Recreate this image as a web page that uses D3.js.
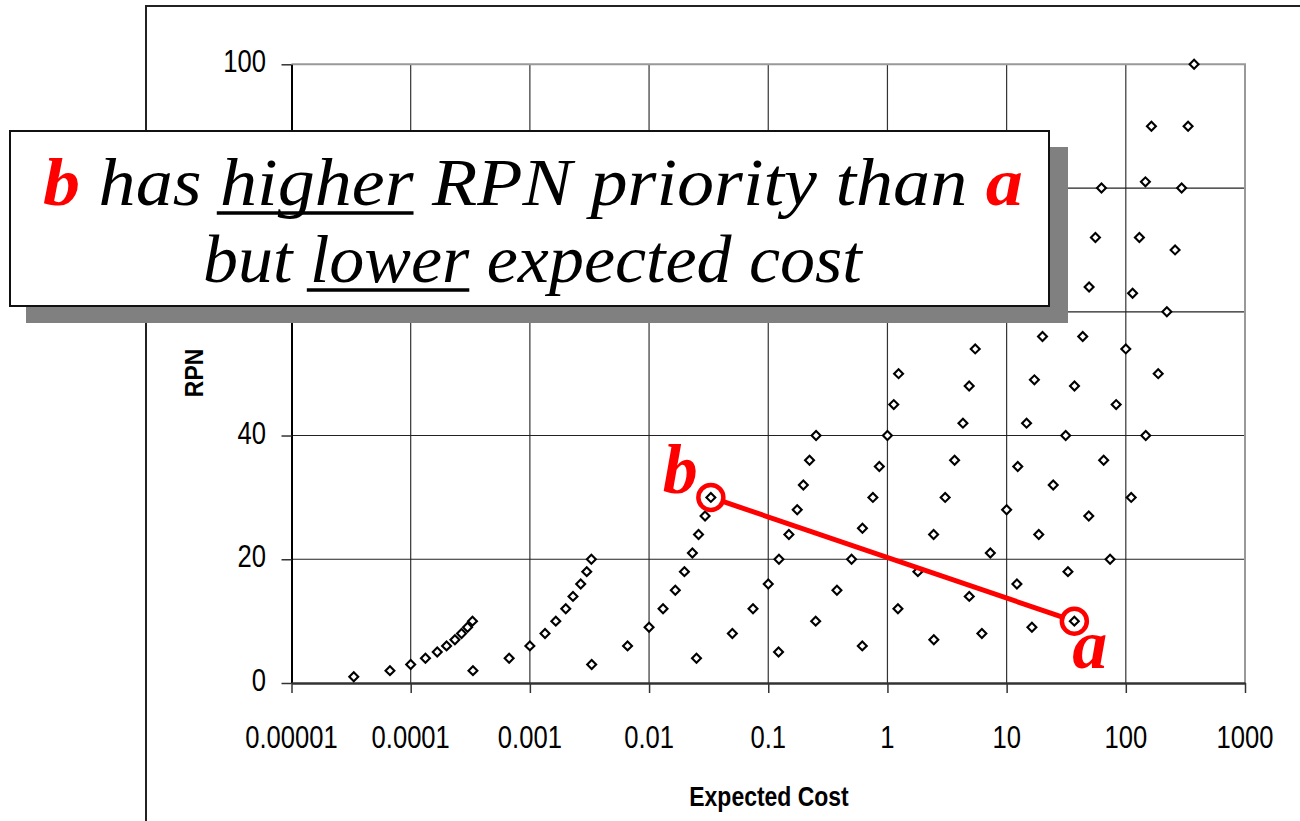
<!DOCTYPE html>
<html>
<head>
<meta charset="utf-8">
<script src="https://cdn.jsdelivr.net/npm/d3@7"></script>
<style>
  body { margin: 0; background: #fff; }
  svg { display: block; }
</style>
</head>
<body>
<script>
// Axis ticks
const xTicks = [1e-5, 1e-4, 1e-3, 1e-2, 1e-1, 1, 10, 100, 1000];
const xTickLabels = ["0.00001", "0.0001", "0.001", "0.01", "0.1", "1", "10", "100", "1000"];
const yTicks = [0, 20, 40, 60, 80, 100];
// 60 and 80 sit behind the callout box in the original
const yTickLabels = ["0", "20", "40", "", "", "100"];

// Point families (RPN vs expected cost)
const rpn1 = [1, 2, 3, 4, 5, 6, 7, 8, 9, 10];
const cost1 = [3.33e-5, 6.7e-5, 1.0e-4, 1.33e-4, 1.67e-4, 2.0e-4, 2.35e-4, 2.67e-4, 3.0e-4, 3.3e-4];
const rpn2 = [2, 4, 6, 8, 10, 12, 14, 16, 18, 20];
const cost2 = [3.33e-4, 6.7e-4, 1.0e-3, 1.34e-3, 1.65e-3, 2.0e-3, 2.3e-3, 2.67e-3, 3.0e-3, 3.28e-3];
const rpn3 = [3, 6, 9, 12, 15, 18, 21, 24, 27, 30];
const cost3 = [3.3e-3, 6.6e-3, 0.01, 0.0131, 0.0166, 0.0198, 0.0231, 0.026, 0.0295, 0.033];
const rpn4 = [4, 8, 12, 16, 20, 24, 28, 32, 36, 40];
const cost4 = [0.025, 0.05, 0.0745, 0.1, 0.123, 0.149, 0.175, 0.197, 0.222, 0.252];
const rpn5 = [5, 10, 15, 20, 25, 30, 35, 40, 45, 50];
const cost5 = [0.122, 0.25, 0.377, 0.5, 0.617, 0.755, 0.855, 1.0, 1.13, 1.24];
const rpn6 = [6, 12, 18, 24, 30, 36, 42, 48, 54, 60];
const cost6 = [0.615, 1.225, 1.8, 2.44, 3.05, 3.66, 4.3, 4.85, 5.45, 6.0];
const rpn7 = [7, 14, 21, 28, 35, 42, 49, 56, 63, 70];
const cost7 = [2.45, 4.86, 7.3, 10.0, 12.4, 14.7, 17.1, 20.0, 22.2, 24.5];
const rpn8 = [8, 16, 24, 32, 40, 48, 56, 64, 72, 80];
const cost8 = [6.2, 12.2, 18.6, 24.6, 31.3, 37.1, 43.5, 49.2, 55.6, 62.5];
const rpn9 = [9, 18, 27, 36, 45, 54, 63, 72, 81, 90];
const cost9 = [16.3, 32.7, 48.9, 65.2, 83, 100, 114, 130, 146, 164];
const rpn10 = [10, 20, 30, 40, 50, 60, 70, 80, 90, 100];
const cost10 = [37, 73.8, 111, 147, 187, 221, 259, 294, 333, 374];

const families = [
    [rpn1, cost1], [rpn2, cost2], [rpn3, cost3], [rpn4, cost4], [rpn5, cost5],
    [rpn6, cost6], [rpn7, cost7], [rpn8, cost8], [rpn9, cost9], [rpn10, cost10]
];

// The two compared items
const pointB = { label: "b", rpn: rpn3[9], cost: cost3[9] };
const pointA = { label: "a", rpn: rpn10[0], cost: cost10[0] };

const points = [];
families.forEach(([r, c]) => r.forEach((v, i) => points.push({ rpn: v, cost: c[i] })));

const width = 1300, height = 821;
const sans = '"Liberation Sans", Arial, sans-serif';
const serif = '"Liberation Serif", "Times New Roman", serif';

const svg = d3.select("body").append("svg")
    .attr("width", width)
    .attr("height", height);

const x = d3.scaleLog().domain([1e-5, 1000]).range([291.5, 1245]);
const y = d3.scaleLinear().domain([0, 100]).range([683, 64.3]);

// no narrow font installed, so squeeze a normal sans horizontally
function narrowText(parent, tx, ty, str, opts) {
    return parent.append("text")
        .attr("transform", `translate(${tx},${ty}) ${opts.rotate ? "rotate(-90)" : ""} scale(${opts.sx},1)`)
        .attr("text-anchor", opts.anchor || "middle")
        .attr("font-family", sans)
        .attr("font-size", opts.size)
        .attr("font-weight", opts.bold ? "bold" : "normal")
        .attr("fill", "#000")
        .text(str);
}

// Outer chart frame (only top and left visible)
svg.append("path")
    .attr("d", `M146,${height} V6 H${width}`)
    .attr("fill", "none")
    .attr("stroke", "#222")
    .attr("stroke-width", 2);

// Gridlines
svg.append("g").selectAll("line")
    .data(xTicks.slice(1, -1))
    .join("line")
    .attr("x1", d => x(d)).attr("x2", d => x(d))
    .attr("y1", y(100)).attr("y2", y(0))
    .attr("stroke", "#333").attr("stroke-width", 1.2);

svg.append("g").selectAll("line")
    .data(yTicks.slice(1, -1))
    .join("line")
    .attr("x1", x(1e-5)).attr("x2", x(1000))
    .attr("y1", d => y(d)).attr("y2", d => y(d))
    .attr("stroke", "#222").attr("stroke-width", 1.2);

// Plot border: top and right in grey
svg.append("path")
    .attr("d", `M${x(1e-5)},${y(100)} H${x(1000)} V${y(0)}`)
    .attr("fill", "none")
    .attr("stroke", "#999")
    .attr("stroke-width", 2);

// Axes (ticks only, labels drawn below)
const yAxis = svg.append("g")
    .attr("transform", `translate(${x(1e-5)},0)`)
    .call(d3.axisLeft(y).tickValues(yTicks).tickSize(10).tickFormat("").tickSizeOuter(0));
yAxis.select(".domain").attr("stroke", "#000").attr("stroke-width", 2);
yAxis.selectAll(".tick line").attr("stroke", "#333").attr("stroke-width", 1.5);

const xAxis = svg.append("g")
    .attr("transform", `translate(0,${y(0)})`)
    .call(d3.axisBottom(x).tickValues(xTicks).tickSize(10).tickFormat("").tickSizeOuter(0));
xAxis.select(".domain").attr("stroke", "#333").attr("stroke-width", 2.5);
xAxis.selectAll(".tick line").attr("stroke", "#333").attr("stroke-width", 1.5);

const labels = svg.append("g");
yTicks.forEach((v, i) => {
    if (yTickLabels[i]) narrowText(labels, 266, y(v) + 8, yTickLabels[i], { size: 32, sx: 0.8, anchor: "end" });
});
xTicks.forEach((v, i) => {
    narrowText(labels, x(v), 748, xTickLabels[i], { size: 32, sx: 0.8 });
});

// Axis titles
narrowText(svg, 769, 806, "Expected Cost", { size: 28, sx: 0.82, bold: true });
narrowText(svg, 203, 373, "RPN", { size: 26, sx: 0.88, bold: true, rotate: true });

// Points: hollow diamonds
svg.append("g").selectAll("path")
    .data(points)
    .join("path")
    .attr("d", d3.symbol(d3.symbolSquare, 40))
    .attr("transform", d => `translate(${x(d.cost)},${y(d.rpn)}) rotate(45)`)
    .attr("fill", "#fff")
    .attr("stroke", "#000")
    .attr("stroke-width", 2.1);

// Red comparison line between b and a
const r = 12.5;
const bx = x(pointB.cost), by = y(pointB.rpn);
const ax = x(pointA.cost), ay = y(pointA.rpn);
const len = Math.hypot(ax - bx, ay - by);
const ux = (ax - bx) / len, uy = (ay - by) / len;

svg.append("line")
    .attr("x1", bx + ux * r).attr("y1", by + uy * r)
    .attr("x2", ax - ux * r).attr("y2", ay - uy * r)
    .attr("stroke", "red").attr("stroke-width", 5);

svg.append("g").selectAll("circle")
    .data([pointB, pointA])
    .join("circle")
    .attr("cx", d => x(d.cost)).attr("cy", d => y(d.rpn))
    .attr("r", r)
    .attr("fill", "none")
    .attr("stroke", "red")
    .attr("stroke-width", 4.5);

svg.append("text")
    .attr("x", bx - 13).attr("y", by - 4)
    .attr("text-anchor", "end")
    .attr("font-family", serif).attr("font-style", "italic").attr("font-weight", "bold")
    .attr("font-size", 70).attr("fill", "red")
    .text(pointB.label);

svg.append("text")
    .attr("x", ax - 2).attr("y", ay + 47)
    .attr("font-family", serif).attr("font-style", "italic").attr("font-weight", "bold")
    .attr("font-size", 70).attr("fill", "red")
    .text(pointA.label);

// Callout box with shadow
svg.append("rect")
    .attr("x", 26).attr("y", 147).attr("width", 1042).attr("height", 176)
    .attr("fill", "#808080");
svg.append("rect")
    .attr("x", 10).attr("y", 131).attr("width", 1039).attr("height", 175)
    .attr("fill", "#fff").attr("stroke", "#111").attr("stroke-width", 2);

function calloutLine(parts, x0, x1, baseline) {
    const g = svg.append("g");
    const t = g.append("text")
        .attr("font-family", serif).attr("font-style", "italic").attr("font-size", 68)
        .style("white-space", "pre");
    parts.forEach(p => t.append("tspan")
        .attr("fill", p.red ? "red" : "#000")
        .attr("font-weight", p.red ? "bold" : "normal")
        .text(p.t));
    const node = t.node();
    const bb = node.getBBox();
    const s = (x1 - x0) / bb.width;
    g.attr("transform", `translate(${x0 - bb.x * s},${baseline}) scale(${s},1)`);
    let idx = 0;
    parts.forEach(p => {
        if (p.u) {
            const a = node.getStartPositionOfChar(idx).x;
            const e = node.getEndPositionOfChar(idx + p.t.length - 1).x;
            g.append("line")
                .attr("x1", a - 3).attr("x2", e)
                .attr("y1", 8).attr("y2", 8)
                .attr("stroke", "#000").attr("stroke-width", 3.5);
        }
        idx += p.t.length;
    });
}

calloutLine([
    { t: "b", red: true },
    { t: " has " },
    { t: "higher", u: true },
    { t: " RPN priority than " },
    { t: "a", red: true }
], 43, 1023, 205);

calloutLine([
    { t: "but " },
    { t: "lower", u: true },
    { t: " expected cost" }
], 203, 864, 282);
</script>
</body>
</html>
